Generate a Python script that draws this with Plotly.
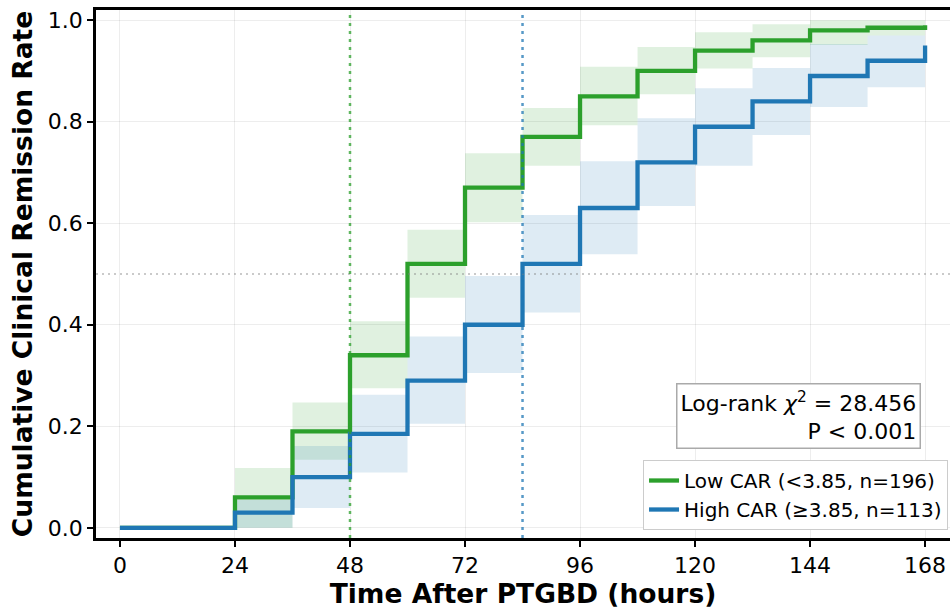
import plotly.graph_objects as go

# ---- data ----
times = [0, 24, 36, 48, 60, 72, 84, 96, 108, 120, 132, 144, 156, 168]
low_rate = [0, 0.06, 0.19, 0.34, 0.52, 0.67, 0.77, 0.85, 0.90, 0.94, 0.96, 0.98, 0.985, 0.99]
low_lower = [0, 0.0, 0.134, 0.275, 0.453, 0.602, 0.713, 0.793, 0.854, 0.905, 0.927, 0.951, 0.97, 0.97]
low_upper = [0, 0.118, 0.247, 0.407, 0.587, 0.738, 0.827, 0.908, 0.947, 0.976, 0.992, 1.0, 1.0, 1.0]
high_rate = [0, 0.03, 0.10, 0.185, 0.29, 0.40, 0.52, 0.63, 0.72, 0.79, 0.84, 0.89, 0.92, 0.95]
high_lower = [0, 0.0, 0.039, 0.109, 0.205, 0.305, 0.424, 0.539, 0.634, 0.713, 0.774, 0.829, 0.868, 0.868]
high_upper = [0, 0.055, 0.161, 0.262, 0.377, 0.496, 0.616, 0.722, 0.807, 0.866, 0.906, 0.953, 0.97, 0.97]
median_low = 48
median_high = 84
x_ticks = [0, 24, 48, 72, 96, 120, 144, 168]
y_ticks = [0.0, 0.2, 0.4, 0.6, 0.8, 1.0]
low_name = "Low CAR (<3.85, n=196)"
high_name = "High CAR (≥3.85, n=113)"

GREEN = "#2ca02c"
BLUE = "#1f77b4"

fig = go.Figure()

def band(lower, upper, fillcolor):
    fig.add_trace(go.Scatter(x=times, y=lower, mode="lines", line=dict(width=0, shape="hv"),
                             showlegend=False, hoverinfo="skip"))
    fig.add_trace(go.Scatter(x=times, y=upper, mode="lines", line=dict(width=0, shape="hv"),
                             fill="tonexty", fillcolor=fillcolor, showlegend=False, hoverinfo="skip"))

band(low_lower, low_upper, "rgba(44,160,44,0.15)")
band(high_lower, high_upper, "rgba(31,119,180,0.15)")

fig.add_trace(go.Scatter(x=times, y=low_rate, mode="lines", name=low_name,
                         line=dict(color=GREEN, width=4.3, shape="hv")))
fig.add_trace(go.Scatter(x=times, y=high_rate, mode="lines", name=high_name,
                         line=dict(color=BLUE, width=4.3, shape="hv")))

# reference lines
fig.add_shape(type="line", xref="paper", yref="y", x0=0, x1=1, y0=0.5, y1=0.5,
              line=dict(color="rgba(128,128,128,0.55)", width=1.5, dash="2px,4px"), layer="above")
fig.add_shape(type="line", xref="x", yref="paper", x0=median_low, x1=median_low, y0=0, y1=1,
              line=dict(color="rgba(44,160,44,0.75)", width=2.5, dash="3px,5px"), layer="above")
fig.add_shape(type="line", xref="x", yref="paper", x0=median_high, x1=median_high, y0=0, y1=1,
              line=dict(color="rgba(31,119,180,0.75)", width=2.5, dash="3px,5px"), layer="above")

fig.add_annotation(xref="paper", yref="paper", x=0.966, y=0.2936, xanchor="right", yanchor="top",
                   text="Log-rank <i>χ</i><sup>2</sup> = 28.456<br>P < 0.001", align="right",
                   showarrow=False, font=dict(family="DejaVu Sans", size=22, color="black"),
                   bgcolor="white", bordercolor="#aaaaaa", borderwidth=1.5, borderpad=3)

fig.update_layout(
    width=950, height=610,
    margin=dict(l=96, r=0, t=10, b=72),
    plot_bgcolor="white", paper_bgcolor="white",
    font=dict(family="DejaVu Sans", size=22, color="black"),
    legend=dict(x=0.9977, y=0.1477, xanchor="right", yanchor="top", traceorder="normal",
                bgcolor="white", bordercolor="#cccccc", borderwidth=1,
                font=dict(size=20)),
    xaxis=dict(range=[-5, 173.2], tickvals=x_ticks, ticktext=[str(t) for t in x_ticks],
               showgrid=True, gridcolor="rgba(0,0,0,0.07)", gridwidth=1,
               showline=True, linecolor="black", linewidth=2.5, mirror=True,
               ticks="outside", ticklen=6, tickwidth=1.5, tickcolor="black",
               zeroline=False,
               title=dict(text="<b>Time After PTGBD (hours)</b>", font=dict(size=26.5), standoff=4)),
    yaxis=dict(range=[-0.02, 1.02], tickvals=y_ticks, ticktext=[f"{v:.1f}" for v in y_ticks],
               showgrid=True, gridcolor="rgba(0,0,0,0.07)", gridwidth=1,
               showline=True, linecolor="black", linewidth=2.5, mirror=False,
               ticks="outside", ticklen=6, tickwidth=1.5, tickcolor="black",
               zeroline=False,
               title=dict(text="<b>Cumulative Clinical Remission Rate</b>", font=dict(size=26.5), standoff=8)),
)

fig.write_html("out.html")
